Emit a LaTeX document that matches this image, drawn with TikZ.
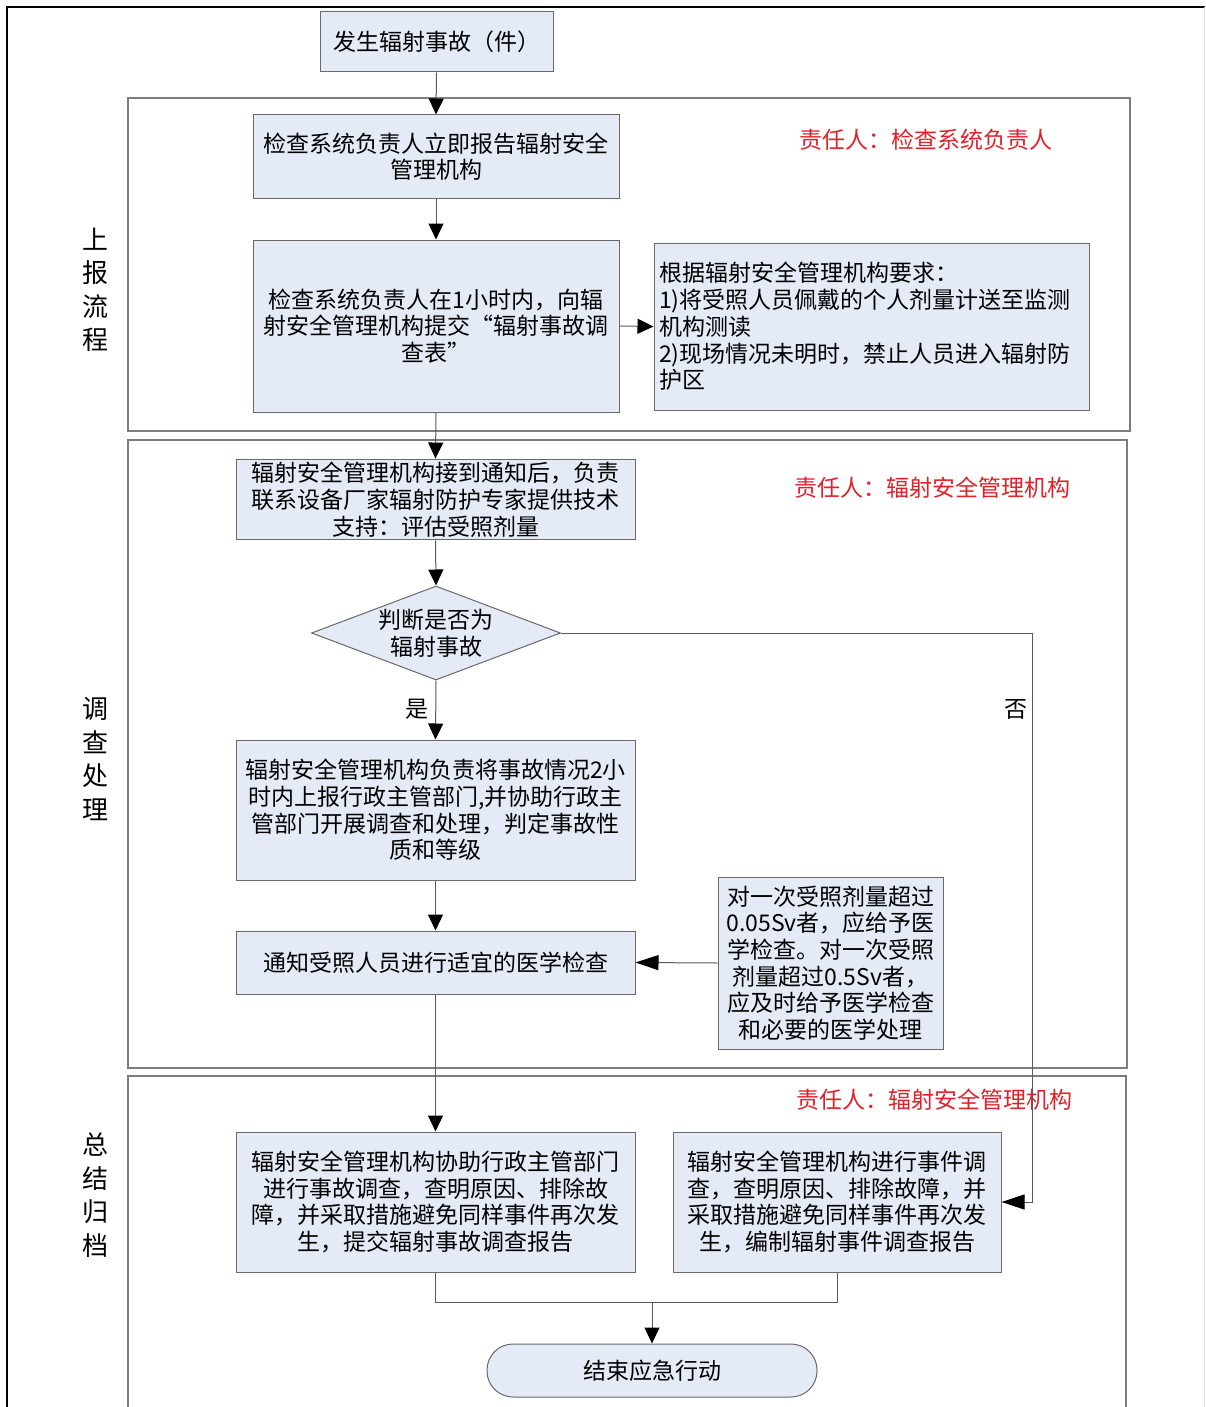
\documentclass[tikz,border=0pt]{standalone}
\usepackage{fontspec}
\setmainfont{Noto Sans CJK SC}
\usetikzlibrary{shapes.geometric,arrows.meta,calc}
\definecolor{boxfill}{RGB}{228,234,246}
\definecolor{boxline}{RGB}{105,105,105}
\definecolor{laneline}{RGB}{125,125,125}
\definecolor{conline}{RGB}{90,90,90}
\definecolor{redtext}{RGB}{226,32,40}
\tikzset{
  procbox/.style={draw=boxline,fill=boxfill,line width=1pt,inner sep=3pt,align=center,
    font=\fontsize{23}{26.7}\selectfont},
  decis/.style={draw=boxline,fill=boxfill,line width=1pt,diamond,aspect=2.65,inner sep=0pt,align=center,
    font=\fontsize{23}{26.7}\selectfont},
  termbox/.style={draw=boxline,fill=boxfill,line width=1pt,rounded corners=26pt,align=center,
    font=\fontsize{23}{26.7}\selectfont},
  lanebox/.style={draw=laneline,line width=1.2pt},
  lanelabel/.style={align=center,font=\fontsize{26}{33.5}\selectfont},
  resp/.style={text=redtext,font=\fontsize{23}{26.7}\selectfont},
  plain/.style={font=\fontsize{23}{26.7}\selectfont},
  conn/.style={draw=conline,line width=1pt},
  arr/.style={conn,-{Triangle[length=16pt,width=15pt,color=black,fill=black]}},
  arrlong/.style={conn,-{Triangle[length=23pt,width=15pt,color=black,fill=black]}}
}
\begin{document}
\begin{tikzpicture}[x=1pt,y=-1pt]
\useasboundingbox (0,0) rectangle (1205,1407);
\fill[white] (0,0) rectangle (1205,1407);
% outer frame
\draw[black,line width=2.6pt] (7,1407) -- (7,7) -- (1205,7);
\draw[black!12,line width=1pt] (1204,7) -- (1204,1407);
% lanes
\draw[lanebox] (128,98) rectangle (1130,431);
\draw[lanebox] (128,440) rectangle (1127,1068);
\draw[lanebox] (128,1407) -- (128,1076) -- (1126,1076) -- (1126,1407);
% lane labels
\node[lanelabel] (lab1) at (95,290) {上\\报\\流\\程};
\node[lanelabel] (lab2) at (95,759) {调\\查\\处\\理};
\node[lanelabel] (lab3) at (95,1195) {总\\结\\归\\档};
% responsible persons
\node[resp] (r1) at (926,140) {责任人：检查系统负责人};
\node[resp] (r2) at (932,488) {责任人：辐射安全管理机构};
\node[resp] (r3) at (934,1100) {责任人：辐射安全管理机构};
% boxes
\node[procbox,minimum width=233pt,minimum height=60pt] (b1) at (436.5,42) {发生辐射事故（件）};
\node[procbox,minimum width=366pt,minimum height=83pt] (b2) at (436,156.5)
  {检查系统负责人立即报告辐射安全\\管理机构};
\node[procbox,minimum width=366pt,minimum height=172pt] (b3) at (436,326)
  {检查系统负责人在1小时内，向辐\\射安全管理机构提交“辐射事故调\\查表”};
\node[procbox,minimum width=435pt,minimum height=167pt,align=left,text width=425pt] (b4) at (871.5,326.5)
  {根据辐射安全管理机构要求：\\1)将受照人员佩戴的个人剂量计送至监测\\机构测读\\2)现场情况未明时，禁止人员进入辐射防\\护区};
\node[procbox,minimum width=399pt,minimum height=79pt] (b5) at (435.5,499.5)
  {辐射安全管理机构接到通知后，负责\\联系设备厂家辐射防护专家提供技术\\支持：评估受照剂量};
\node[decis,minimum width=249pt,minimum height=94pt] (d) at (436,633)
  {判断是否为\\辐射事故};
\node[procbox,minimum width=399pt,minimum height=140pt] (b6) at (435.5,810)
  {辐射安全管理机构负责将事故情况2小\\时内上报行政主管部门,并协助行政主\\管部门开展调查和处理，判定事故性\\质和等级};
\node[procbox,minimum width=399pt,minimum height=63pt] (b7) at (435.5,962.5)
  {通知受照人员进行适宜的医学检查};
\node[procbox,minimum width=225pt,minimum height=172pt,inner sep=2pt] (b8) at (830.5,963)
  {对一次受照剂量超过\\0.05Sv者，应给予医\\学检查。对一次受照\\剂量超过0.5Sv者，\\应及时给予医学检查\\和必要的医学处理};
\node[procbox,minimum width=399pt,minimum height=140pt] (b9) at (435.5,1202)
  {辐射安全管理机构协助行政主管部门\\进行事故调查，查明原因、排除故\\障，并采取措施避免同样事件再次发\\生，提交辐射事故调查报告};
\node[procbox,minimum width=328pt,minimum height=140pt] (b10) at (837,1202)
  {辐射安全管理机构进行事件调\\查，查明原因、排除故障，并\\采取措施避免同样事件再次发\\生，编制辐射事件调查报告};
\node[termbox,minimum width=330pt,minimum height=53pt] (t) at (652,1370.5) {结束应急行动};
% labels
\node[plain] (yes) at (417,709) {是};
\node[plain] (no) at (1016,709) {否};
% connectors
\draw[arr] (b1.south) -- (b2.north);
\draw[arr] (b2.south) -- (b3.north);
\draw[arr] (b3.east) -- (b4.west);
\draw[arr] (b3.south) -- (b5.north);
\draw[arr] (b5.south) -- (d.north);
\draw[arr] (d.south) -- (b6.north);
\draw[arr] (b6.south) -- (b7.north);
\draw[arrlong] (b8.west) -- (b7.east);
\draw[arr] (b7.south) -- (b9.north);
\coordinate (nx) at (1032,1202);
\draw[arrlong] (d.east) -| (nx) -- (b10.east);
\coordinate (m) at (652,1302);
\draw[conn] (b9.south) |- (m) -| (b10.south);
\draw[arr] (m) -- (t.north);
\end{tikzpicture}
\end{document}
